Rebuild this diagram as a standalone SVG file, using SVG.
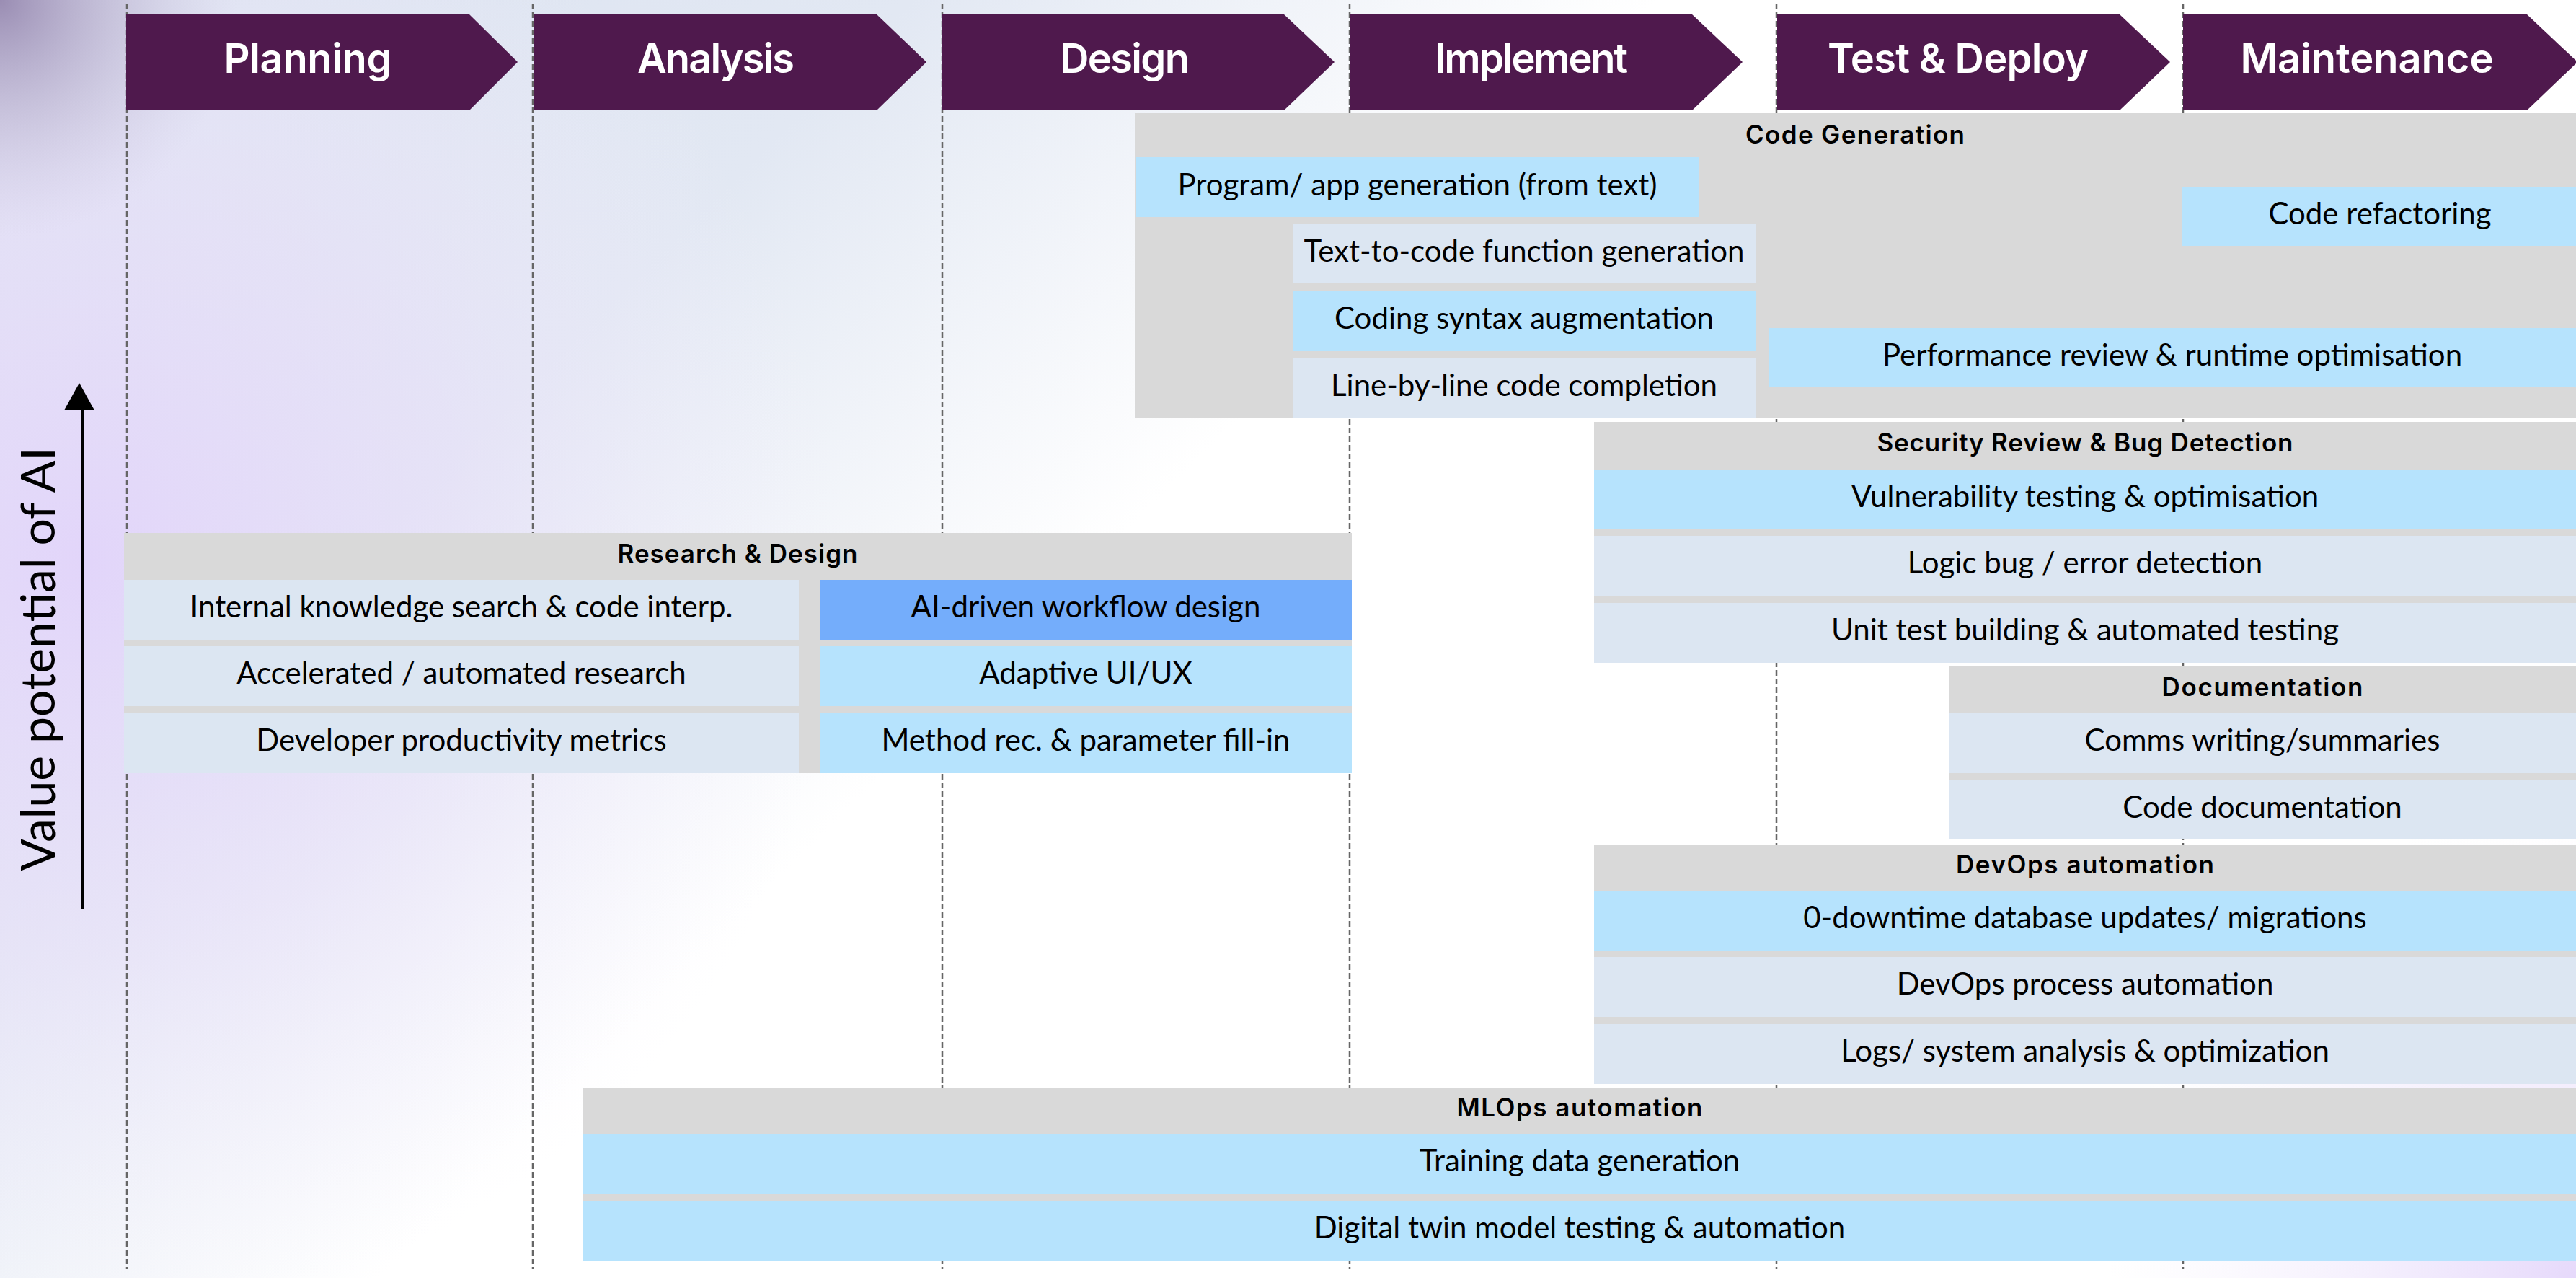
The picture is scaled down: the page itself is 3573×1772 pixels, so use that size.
<svg xmlns="http://www.w3.org/2000/svg" width="3573" height="1772" viewBox="0 0 3573 1772">
<defs>
<linearGradient id="bgBlue" gradientUnits="userSpaceOnUse" x1="0" y1="0" x2="1150" y2="1150">
<stop offset="0" stop-color="#dbe2f0"/>
<stop offset="0.55" stop-color="#e2e8f3"/>
<stop offset="1" stop-color="#ffffff"/>
</linearGradient>
<radialGradient id="bgLav" gradientUnits="userSpaceOnUse" cx="120" cy="780" r="1050">
<stop offset="0" stop-color="#e2d5fa" stop-opacity="1"/>
<stop offset="0.5" stop-color="#e8dff9" stop-opacity="0.6"/>
<stop offset="1" stop-color="#f3eefc" stop-opacity="0"/>
</radialGradient>
<radialGradient id="bgCorner" gradientUnits="userSpaceOnUse" cx="0" cy="0" r="330">
<stop offset="0" stop-color="#9a8db3" stop-opacity="1"/>
<stop offset="1" stop-color="#c9c2dc" stop-opacity="0"/>
</radialGradient>
<radialGradient id="bgBR" gradientUnits="userSpaceOnUse" cx="3573" cy="1772" r="650">
<stop offset="0" stop-color="#e6d9fb" stop-opacity="1"/>
<stop offset="1" stop-color="#f4effd" stop-opacity="0"/>
</radialGradient>
<marker id="axisHead" markerWidth="10" markerHeight="10" refX="0" refY="5" orient="auto" markerUnits="userSpaceOnUse" viewBox="0 0 10 10" overflow="visible">
<path d="M0,-20.5 L37,0 L0,20.5 Z" fill="#000"/>
</marker>
<style>
.guide{stroke:#666666;stroke-width:2.5;stroke-dasharray:8 4;fill:none}
.chev{fill:#4f194d}
.phase{font-family:Inter,"Open Sans","Liberation Sans",sans-serif;font-weight:600;font-size:56px;fill:#ffffff;text-anchor:middle}
.grp{fill:#d9d9d9}
.hdr{font-family:Inter,"Open Sans","Liberation Sans",sans-serif;font-weight:600;font-size:35px;fill:#000;text-anchor:middle}
.lb{fill:#b6e3fd}
.pb{fill:#dce6f2}
.mb{fill:#74adfb}
.it{font-family:Lato,"Open Sans","Liberation Sans",sans-serif;font-size:42px;fill:#000;text-anchor:middle}
.ax{font-family:Lato,"Open Sans","Liberation Sans",sans-serif;font-size:66px;fill:#000;text-anchor:middle}
</style>
</defs>

<g id="background">
<rect x="0" y="0" width="3573" height="1772" fill="#ffffff"/>
<rect x="0" y="0" width="3573" height="1772" fill="url(#bgBlue)"/>
<rect x="0" y="0" width="3573" height="1772" fill="url(#bgLav)"/>
<rect x="0" y="0" width="3573" height="1772" fill="url(#bgCorner)"/>
<rect x="0" y="0" width="3573" height="1772" fill="url(#bgBR)"/>
</g>

<g id="gridlines">
<line class="guide" x1="176" y1="5" x2="176" y2="1760"/>
<line class="guide" x1="739" y1="5" x2="739" y2="1760"/>
<line class="guide" x1="1307" y1="5" x2="1307" y2="1760"/>
<line class="guide" x1="1872" y1="5" x2="1872" y2="1760"/>
<line class="guide" x1="2464" y1="5" x2="2464" y2="1760"/>
<line class="guide" x1="3028" y1="5" x2="3028" y2="1760"/>
</g>

<g id="axis">
<line x1="115" y1="1261" x2="115" y2="568" stroke="#000" stroke-width="4" marker-end="url(#axisHead)"/>
<text class="ax" transform="translate(76,914) rotate(-90)">Value potential of AI</text>
</g>

<g id="phase-planning">
<polygon class="chev" points="175,20 651,20 718,86 651,153 175,153"/>
<text class="phase" x="427" y="101" textLength="233" lengthAdjust="spacing">Planning</text>
</g>
<g id="phase-analysis">
<polygon class="chev" points="740,20 1216,20 1285,86 1216,153 740,153"/>
<text class="phase" x="993" y="101" textLength="218" lengthAdjust="spacing">Analysis</text>
</g>
<g id="phase-design">
<polygon class="chev" points="1307,20 1781,20 1851,86 1781,153 1307,153"/>
<text class="phase" x="1560" y="101" textLength="180" lengthAdjust="spacing">Design</text>
</g>
<g id="phase-implement">
<polygon class="chev" points="1872,20 2347,20 2417,86 2347,153 1872,153"/>
<text class="phase" x="2124" y="101" textLength="268" lengthAdjust="spacing">Implement</text>
</g>
<g id="phase-test-deploy">
<polygon class="chev" points="2465,20 2940,20 3010,86 2940,153 2465,153"/>
<text class="phase" x="2716" y="101" textLength="362" lengthAdjust="spacing">Test &amp; Deploy</text>
</g>
<g id="phase-maintenance">
<polygon class="chev" points="3028,20 3505,20 3575,86 3505,153 3028,153"/>
<text class="phase" x="3283" y="101" textLength="351" lengthAdjust="spacing">Maintenance</text>
</g>

<g id="code-generation">
<rect class="grp" x="1574" y="156" width="1999" height="423"/>
<text class="hdr" x="2573" y="199" textLength="304" lengthAdjust="spacing">Code Generation</text>
<rect class="lb" x="1575" y="218" width="781" height="83"/>
<text class="it" x="1966" y="271">Program/ app generation (from text)</text>
<rect class="pb" x="1794" y="310" width="641" height="83"/>
<text class="it" x="2114" y="363">Text-to-code function generation</text>
<rect class="lb" x="1794" y="404" width="641" height="83"/>
<text class="it" x="2114" y="456">Coding syntax augmentation</text>
<rect class="pb" x="1794" y="496" width="641" height="83"/>
<text class="it" x="2114" y="549">Line-by-line code completion</text>
<rect class="lb" x="3027" y="259" width="546" height="82"/>
<text class="it" x="3301" y="311">Code refactoring</text>
<rect class="lb" x="2454" y="455" width="1119" height="82"/>
<text class="it" x="3013" y="507">Performance review &amp; runtime optimisation</text>
</g>

<g id="research-design">
<rect class="grp" x="172" y="739" width="1703" height="333"/>
<text class="hdr" x="1023" y="780" textLength="333" lengthAdjust="spacing">Research &amp; Design</text>
<rect class="pb" x="172" y="804" width="936" height="83"/>
<text class="it" x="640" y="856">Internal knowledge search &amp; code interp.</text>
<rect class="pb" x="172" y="896" width="936" height="83"/>
<text class="it" x="640" y="948">Accelerated / automated research</text>
<rect class="pb" x="172" y="989" width="936" height="83"/>
<text class="it" x="640" y="1041">Developer productivity metrics</text>
<rect class="mb" x="1137" y="804" width="738" height="83"/>
<text class="it" x="1506" y="856">AI-driven workflow design</text>
<rect class="lb" x="1137" y="896" width="738" height="83"/>
<text class="it" x="1506" y="948">Adaptive UI/UX</text>
<rect class="lb" x="1137" y="989" width="738" height="83"/>
<text class="it" x="1506" y="1041">Method rec. &amp; parameter fill-in</text>
</g>

<g id="security-review">
<rect class="grp" x="2211" y="585" width="1362" height="334"/>
<text class="hdr" x="2892" y="626" textLength="577" lengthAdjust="spacing">Security Review &amp; Bug Detection</text>
<rect class="lb" x="2211" y="651" width="1362" height="83"/>
<text class="it" x="2892" y="703">Vulnerability testing &amp; optimisation</text>
<rect class="pb" x="2211" y="743" width="1362" height="83"/>
<text class="it" x="2892" y="795">Logic bug / error detection</text>
<rect class="pb" x="2211" y="836" width="1362" height="83"/>
<text class="it" x="2892" y="888">Unit test building &amp; automated testing</text>
</g>

<g id="documentation">
<rect class="grp" x="2704" y="924" width="869" height="240"/>
<text class="hdr" x="3138" y="965" textLength="279" lengthAdjust="spacing">Documentation</text>
<rect class="pb" x="2704" y="989" width="869" height="83"/>
<text class="it" x="3138" y="1041">Comms writing/summaries</text>
<rect class="pb" x="2704" y="1082" width="869" height="82"/>
<text class="it" x="3138" y="1134">Code documentation</text>
</g>

<g id="devops-automation">
<rect class="grp" x="2211" y="1172" width="1362" height="331"/>
<text class="hdr" x="2892" y="1211" textLength="358" lengthAdjust="spacing">DevOps automation</text>
<rect class="lb" x="2211" y="1235" width="1362" height="83"/>
<text class="it" x="2892" y="1287">0-downtime database updates/ migrations</text>
<rect class="pb" x="2211" y="1327" width="1362" height="83"/>
<text class="it" x="2892" y="1379">DevOps process automation</text>
<rect class="pb" x="2211" y="1420" width="1362" height="83"/>
<text class="it" x="2892" y="1472">Logs/ system analysis &amp; optimization</text>
</g>

<g id="mlops-automation">
<rect class="grp" x="809" y="1508" width="2764" height="240"/>
<text class="hdr" x="2191" y="1548" textLength="341" lengthAdjust="spacing">MLOps automation</text>
<rect class="lb" x="809" y="1572" width="2764" height="83"/>
<text class="it" x="2191" y="1624">Training data generation</text>
<rect class="lb" x="809" y="1665" width="2764" height="83"/>
<text class="it" x="2191" y="1717">Digital twin model testing &amp; automation</text>
</g>
</svg>
